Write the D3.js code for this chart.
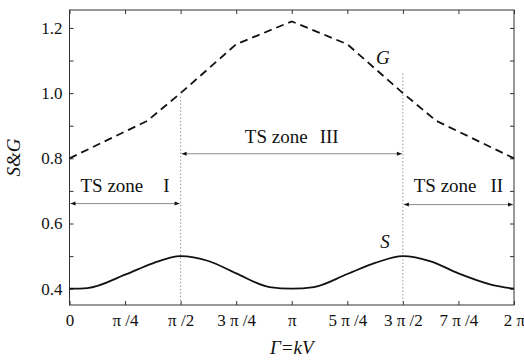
<!DOCTYPE html>
<html>
<head>
<meta charset="utf-8">
<script src="https://cdn.jsdelivr.net/npm/d3@7"></script>
<style>
  body { margin: 0; background: #fff; }
  svg { display: block; }
  svg text { font-family: "Liberation Serif", "Times New Roman", Times, "DejaVu Serif", serif; }
</style>
</head>
<body>
<svg id="chart" width="524" height="360"></svg>
<script>
// x positions as multiples of pi
const xTicks = [0, 0.25, 0.5, 0.75, 1, 1.25, 1.5, 1.75, 2];
const xTickLabels = ["0", "π /4", "π /2", "3 π /4", "π", "5 π /4", "3 π /2", "7 π /4", "2 π"];
const yTicks = [0.4, 0.5, 0.6, 0.7, 0.8, 0.9, 1.0, 1.1, 1.2];
const yTickLabels = ["0.4", "", "0.6", "", "0.8", "", "1.0", "", "1.2"];

// G curve (dashed)
const gX = [0, 0.35, 0.5, 0.75, 1, 1.25, 1.5, 1.65, 2];
const gY = [0.80, 0.915, 1.0, 1.15, 1.22, 1.15, 1.0, 0.915, 0.80];

// S curve (solid)
const sX = [0, 0.08, 0.25, 0.375, 0.5, 0.625, 0.75, 0.9, 1, 1.1, 1.25, 1.375, 1.5, 1.625, 1.75, 1.9, 2];
const sY = [0.400, 0.402, 0.443, 0.478, 0.500, 0.485, 0.447, 0.405, 0.400, 0.405, 0.445, 0.479, 0.500, 0.484, 0.447, 0.412, 0.400];

// zones
const zoneNames = ["TS zone", "TS zone", "TS zone"];
const zoneNumerals = ["I", "III", "II"];
const zoneStart = [0, 0.5, 1.5];
const zoneEnd = [0.5, 1.5, 2];
const zoneArrowY = [0.661, 0.814, 0.658];
const zoneLabelY = [0.697, 0.847, 0.697];
const zoneGap = [20, 12, 14];

// dotted boundaries
const boundX = [0.5, 1.5];
const boundTop = [0.99, 1.06];

const width = 524, height = 360;
const margin = { top: 10, right: 10, bottom: 55, left: 69.5 };
const FONT = '"Liberation Serif", "Times New Roman", Times, "DejaVu Serif", serif';

const svg = d3.select("#chart");

const x = d3.scaleLinear().domain([0, 2]).range([margin.left, width - margin.right]);
const y = d3.scaleLinear().domain([0.35, 1.255]).range([height - margin.bottom, margin.top]);

const axisColor = "#333";

// frame
svg.append("rect")
    .attr("x", x(0))
    .attr("y", y(1.255))
    .attr("width", x(2) - x(0))
    .attr("height", y(0.35) - y(1.255))
    .attr("fill", "none")
    .attr("stroke", axisColor)
    .attr("stroke-width", 1);

// axes, ticks pointing inward
const styleAxis = g => {
    g.attr("font-family", FONT);
    g.select(".domain").remove();
    g.selectAll(".tick line").attr("stroke", axisColor);
    g.selectAll(".tick text").attr("fill", "#111").style("font-size", "17px");
};

svg.append("g")
    .attr("transform", `translate(0,${y(0.35)})`)
    .call(d3.axisBottom(x).tickValues(xTicks).tickSize(-4).tickPadding(9)
        .tickFormat((d, i) => xTickLabels[i]))
    .call(styleAxis);

svg.append("g")
    .attr("transform", `translate(0,${y(1.255)})`)
    .call(d3.axisTop(x).tickValues(xTicks).tickSize(-4).tickFormat(""))
    .call(styleAxis);

svg.append("g")
    .attr("transform", `translate(${x(0)},0)`)
    .call(d3.axisLeft(y).tickValues(yTicks).tickSize(-4).tickPadding(7)
        .tickFormat((d, i) => yTickLabels[i]))
    .call(styleAxis);

svg.append("g")
    .attr("transform", `translate(${x(2)},0)`)
    .call(d3.axisRight(y).tickValues(yTicks).tickSize(-4).tickFormat(""))
    .call(styleAxis);

// dotted boundary lines
svg.selectAll("line.bound")
    .data(boundX)
    .join("line")
    .attr("class", "bound")
    .attr("x1", d => x(d))
    .attr("x2", d => x(d))
    .attr("y1", (d, i) => y(boundTop[i]))
    .attr("y2", y(0.35))
    .attr("stroke", "#999")
    .attr("stroke-width", 1)
    .attr("stroke-dasharray", "1.5,2");

// arrowheads
const defs = svg.append("defs");
defs.append("marker")
    .attr("id", "arrow")
    .attr("viewBox", "0 0 10 10")
    .attr("refX", 10)
    .attr("refY", 5)
    .attr("markerWidth", 7)
    .attr("markerHeight", 5)
    .attr("markerUnits", "userSpaceOnUse")
    .attr("orient", "auto-start-reverse")
    .append("path")
    .attr("d", "M0,1 L10,5 L0,9 Z")
    .attr("fill", "#111");

// zone arrows
svg.selectAll("line.zone")
    .data(zoneStart)
    .join("line")
    .attr("class", "zone")
    .attr("x1", d => x(d) + 1)
    .attr("x2", (d, i) => x(zoneEnd[i]) - 1)
    .attr("y1", (d, i) => y(zoneArrowY[i]))
    .attr("y2", (d, i) => y(zoneArrowY[i]))
    .attr("stroke", "#8a8a8a")
    .attr("stroke-width", 1)
    .attr("marker-start", "url(#arrow)")
    .attr("marker-end", "url(#arrow)");

// zone labels
const zoneText = svg.selectAll("text.zone")
    .data(zoneStart)
    .join("text")
    .attr("class", "zone")
    .attr("x", (d, i) => (x(d) + x(zoneEnd[i])) / 2)
    .attr("y", (d, i) => y(zoneLabelY[i]))
    .attr("text-anchor", "middle")
    .style("font-size", "19px")
    .attr("fill", "#111");
zoneText.append("tspan").text((d, i) => zoneNames[i]);
zoneText.append("tspan").attr("dx", (d, i) => zoneGap[i]).text((d, i) => zoneNumerals[i]);

// curves
svg.append("path")
    .datum(gX.map((d, i) => [x(d), y(gY[i])]))
    .attr("d", d3.line())
    .attr("fill", "none")
    .attr("stroke", "#111")
    .attr("stroke-width", 1.8)
    .attr("stroke-dasharray", "8,5");

svg.append("path")
    .datum(sX.map((d, i) => [x(d), y(sY[i])]))
    .attr("d", d3.line().curve(d3.curveMonotoneX))
    .attr("fill", "none")
    .attr("stroke", "#111")
    .attr("stroke-width", 1.8);

// curve labels
const label = (xv, yv, txt) => svg.append("text")
    .attr("x", x(xv))
    .attr("y", y(yv))
    .attr("text-anchor", "middle")
    .style("font-size", "19px")
    .style("font-style", "italic")
    .attr("fill", "#111")
    .text(txt);

label(1.41, 1.09, "G");
label(1.42, 0.525, "S");

// axis titles
svg.append("text")
    .attr("transform", `translate(20,${(y(0.35) + y(1.255)) / 2}) rotate(-90)`)
    .attr("text-anchor", "middle")
    .style("font-size", "19px")
    .style("font-style", "italic")
    .attr("fill", "#111")
    .text("S&G");

svg.append("text")
    .attr("x", x(1))
    .attr("y", 354)
    .attr("text-anchor", "middle")
    .style("font-size", "19px")
    .style("font-style", "italic")
    .attr("fill", "#111")
    .text("Γ=kV");
</script>
</body>
</html>
